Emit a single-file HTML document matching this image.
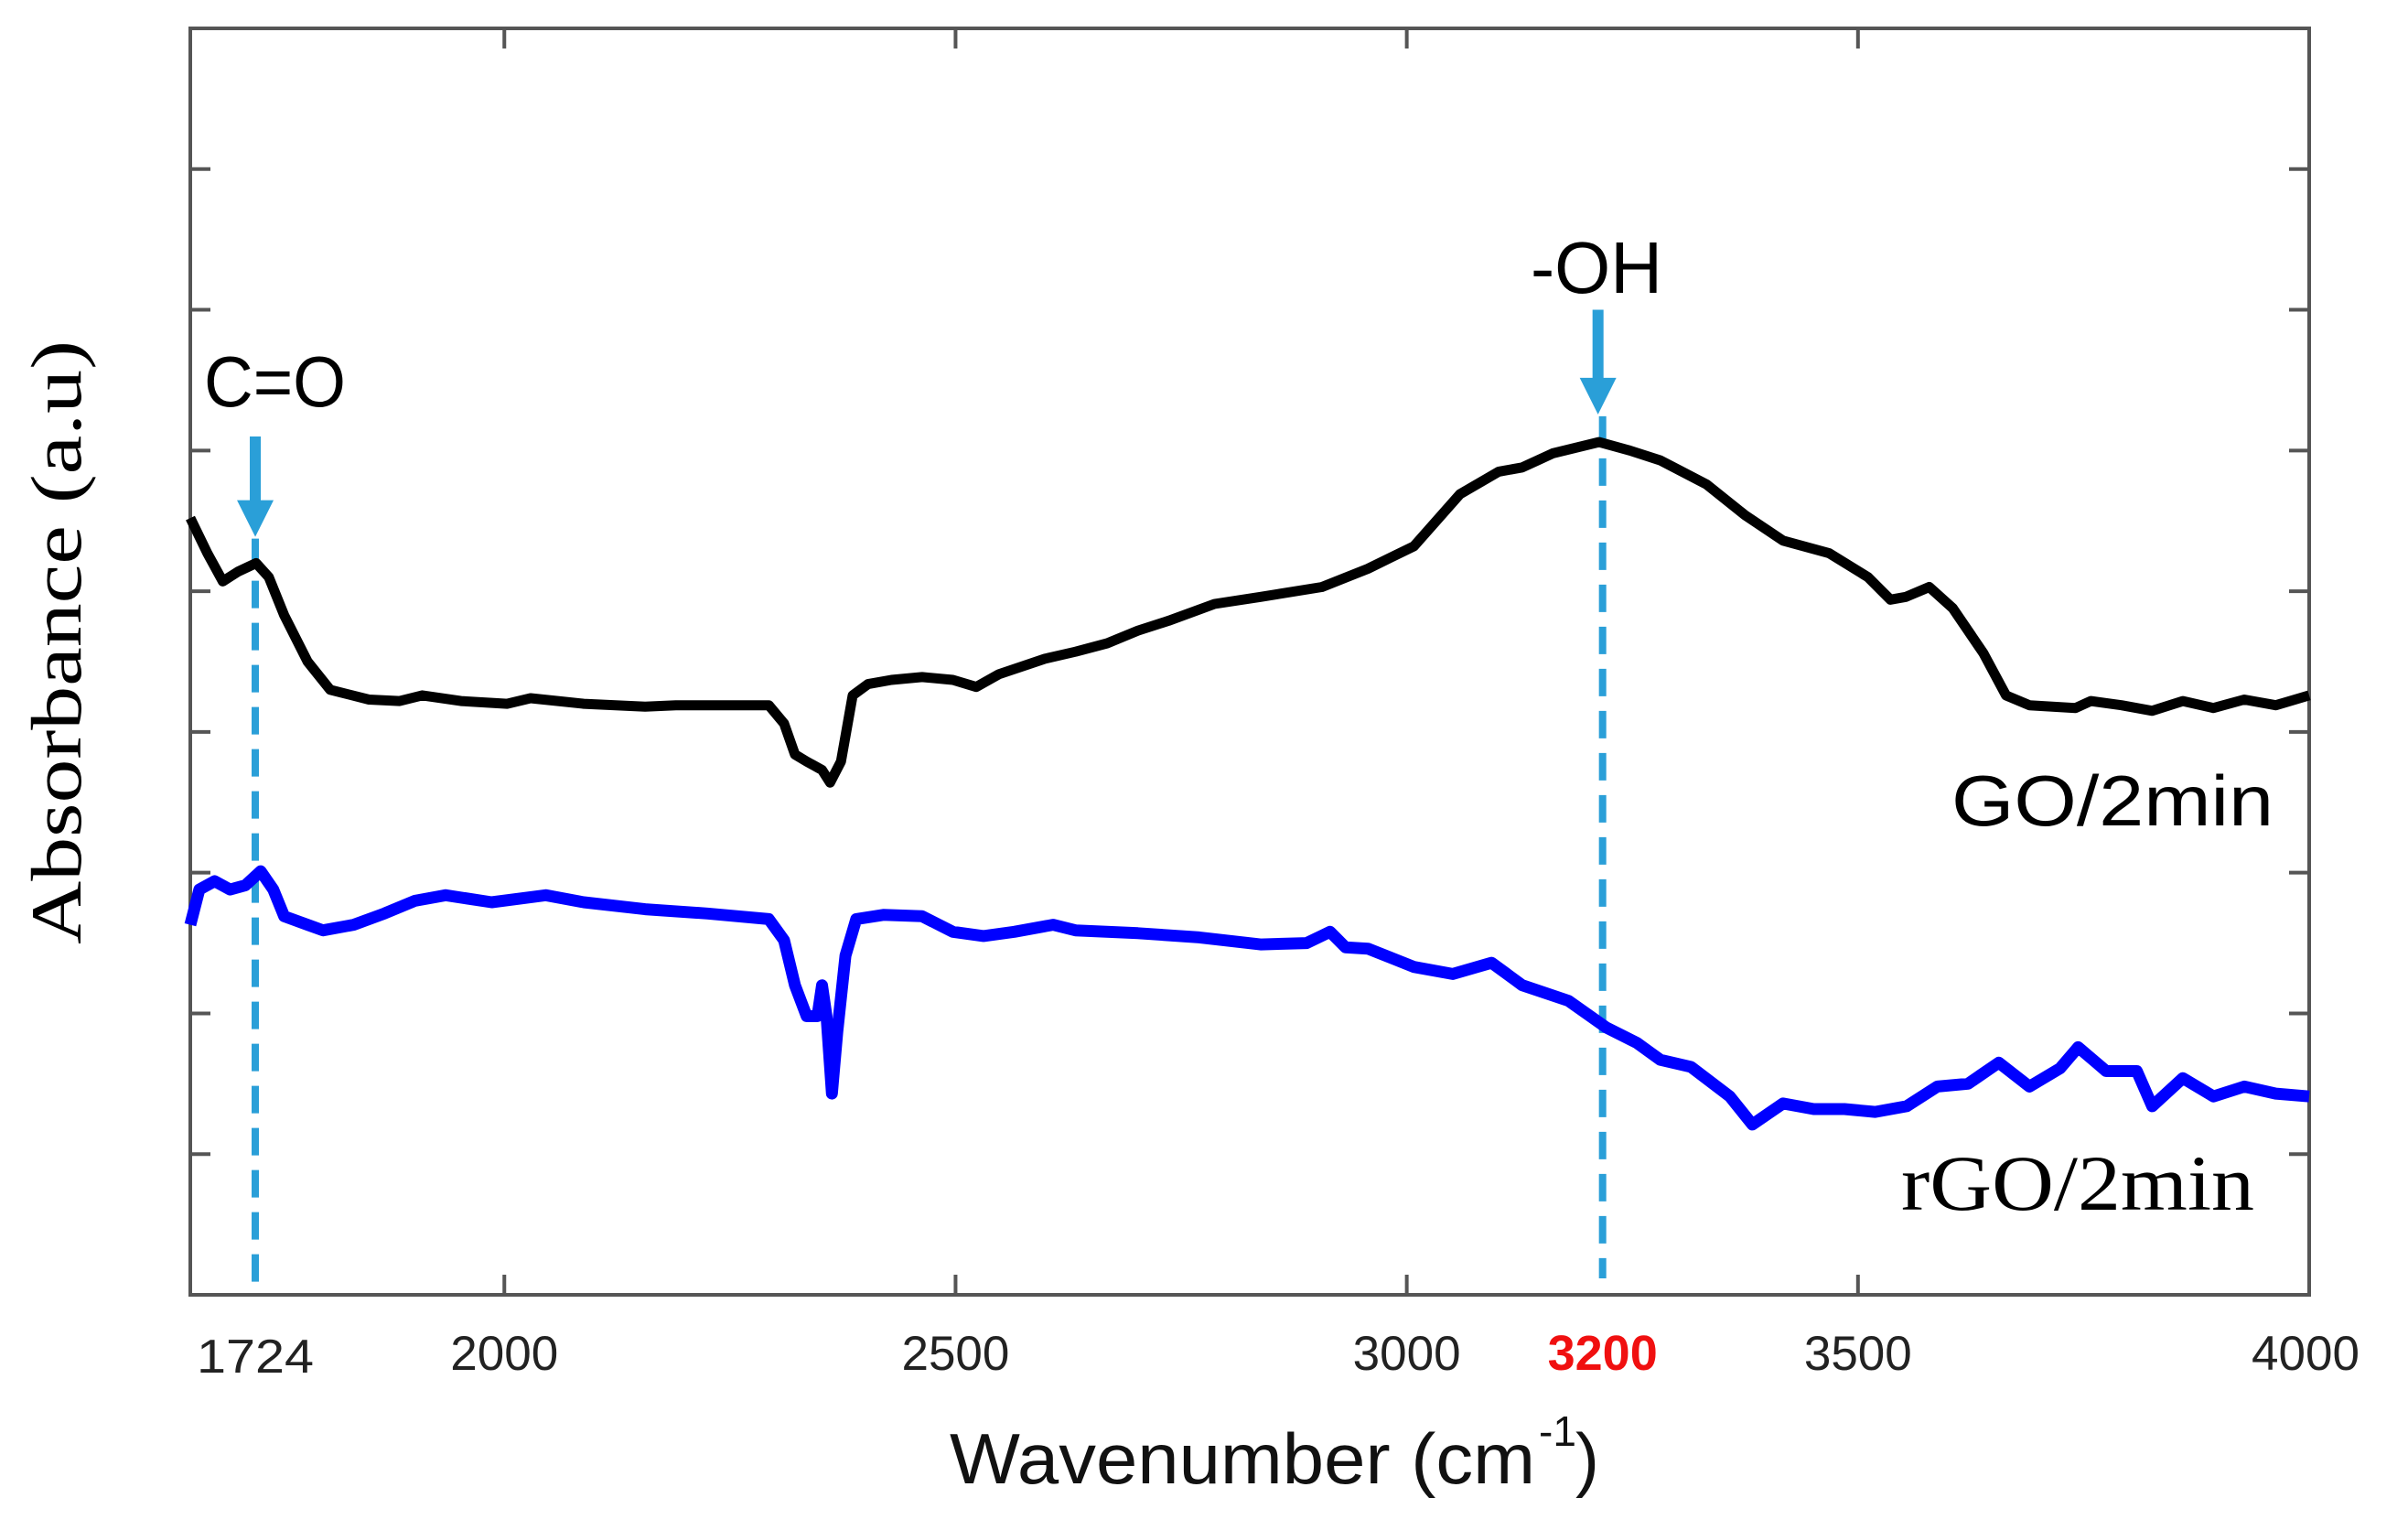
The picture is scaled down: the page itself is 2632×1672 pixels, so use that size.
<!DOCTYPE html>
<html><head><meta charset="utf-8"><style>
html,body{margin:0;padding:0;background:#fff;}
svg{display:block;}
</style></head><body>
<svg id="chart" width="2632" height="1672" viewBox="0 0 2632 1672" xmlns="http://www.w3.org/2000/svg">
</svg>
<script>
const goWn = [1652,1671,1688,1705,1725,1739,1756,1782,1807,1850,1884,1909,1952,2003,2029,2088,2156,2190,2293,2310,2322,2335,2352,2361,2373,2386,2403,2429,2463,2497,2523,2548,2599,2633,2668,2702,2736,2787,2838,2906,2957,3008,3059,3102,3128,3162,3213,3247,3281,3332,3375,3417,3468,3511,3536,3553,3579,3605,3639,3664,3690,3741,3758,3792,3826,3860,3894,3928,3963,4000];
const goAbs = [5.52,5.27,5.07,5.14,5.20,5.10,4.83,4.50,4.30,4.23,4.22,4.26,4.22,4.20,4.24,4.20,4.18,4.19,4.19,4.06,3.84,3.79,3.73,3.64,3.79,4.26,4.34,4.37,4.39,4.37,4.32,4.41,4.52,4.57,4.63,4.72,4.79,4.91,4.96,5.03,5.16,5.32,5.69,5.85,5.88,5.98,6.06,6.00,5.93,5.76,5.54,5.36,5.27,5.10,4.94,4.96,5.03,4.88,4.56,4.26,4.19,4.17,4.22,4.19,4.15,4.22,4.17,4.23,4.19,4.26];
const rgoWn = [1652,1662,1679,1696,1713,1730,1744,1756,1782,1799,1833,1867,1901,1935,1986,2046,2088,2156,2225,2293,2310,2322,2335,2347,2352,2357,2363,2369,2378,2390,2420,2463,2497,2531,2565,2608,2633,2702,2770,2838,2889,2915,2932,2957,3008,3051,3094,3128,3179,3221,3255,3281,3315,3358,3383,3417,3451,3485,3519,3554,3588,3622,3656,3690,3724,3744,3775,3809,3826,3860,3894,3928,3963,4000];
const rgoAbs = [2.63,2.88,2.94,2.88,2.91,3.01,2.88,2.69,2.63,2.59,2.63,2.71,2.80,2.84,2.79,2.84,2.79,2.74,2.71,2.67,2.52,2.20,1.98,1.98,2.20,1.98,1.43,1.87,2.41,2.67,2.70,2.69,2.58,2.55,2.58,2.63,2.59,2.57,2.54,2.49,2.50,2.58,2.47,2.46,2.33,2.28,2.36,2.20,2.09,1.90,1.79,1.67,1.62,1.41,1.21,1.36,1.32,1.32,1.30,1.34,1.48,1.50,1.65,1.48,1.61,1.76,1.59,1.59,1.34,1.54,1.41,1.48,1.43,1.41];
const xTicks = [2000,2500,3000,3500,4000];
const yTicks = [1,2,3,4,5,6,7,8];
const markerWn = [1724,3217];

const L=208,R=2524,T=31,B=1415;
const xMin=1652,xMax=4000,yMin=0,yMax=9;
const xs=v=>L+(v-xMin)/(xMax-xMin)*(R-L);
const ys=v=>B-(v-yMin)/(yMax-yMin)*(B-T);
const svg=document.getElementById('chart');
const NS='http://www.w3.org/2000/svg';
function mk(tag,attrs){const e=document.createElementNS(NS,tag);for(const k in attrs)e.setAttribute(k,attrs[k]);svg.appendChild(e);return e;}

let frame=mk('rect',{x:L,y:T,width:R-L,height:B-T,fill:'none',stroke:'#555',"stroke-width":4});



yTicks.forEach(t=>{
  let a=mk('line',{x1:L,x2:L+22,y1:ys(t),y2:ys(t),stroke:'#555',"stroke-width":4});
  
  
  let b=mk('line',{x1:R-22,x2:R,y1:ys(t),y2:ys(t),stroke:'#555',"stroke-width":4});
  
  
});
xTicks.forEach(t=>{
  let a=mk('line',{x1:xs(t),x2:xs(t),y1:B,y2:B-22,stroke:'#555',"stroke-width":4});
  
  
  let b=mk('line',{x1:xs(t),x2:xs(t),y1:T,y2:T+22,stroke:'#555',"stroke-width":4});
  
  
  let tx=mk('text',{x:xs(t)-(t===4000?4:0),y:1497,"text-anchor":"middle","font-family":"Liberation Sans, sans-serif","font-size":53,fill:'#222'});
  tx.textContent=t;
  
  
});
let l1=mk('text',{x:xs(1724),y:1500,"text-anchor":"middle","font-family":"Liberation Sans, sans-serif","font-size":52,textLength:128,lengthAdjust:"spacingAndGlyphs",fill:'#222'});
l1.textContent='1724';


let l2=mk('text',{x:xs(3217),y:1497,"text-anchor":"middle","font-family":"Liberation Sans, sans-serif","font-size":54,"font-weight":"bold",fill:'#f01010'});
l2.textContent='3200';



// markers
const markerTop=[ys(5.4),ys(6.27)];
const arrowTop=[ys(6.1),ys(7.0)];
markerWn.forEach((w,i)=>{
  let d=mk('line',{x1:xs(w),x2:xs(w),y1:markerTop[i]+4,y2:(i===0?B:B-18),stroke:'#2a9fd8',"stroke-width":8,"stroke-dasharray":"30,16"});
  
  
  const ax=xs(w)-(i===1?5:0);
  let s=mk('line',{x1:ax,x2:ax,y1:arrowTop[i],y2:markerTop[i]-30,stroke:'#2a9fd8',"stroke-width":12});
  
  
  let h=mk('polygon',{points:`${ax-20},${markerTop[i]-38} ${ax+20},${markerTop[i]-38} ${ax},${markerTop[i]+2}`,fill:'#2a9fd8'});
  
  
});

function path(wn,ab){return wn.map((w,i)=>(i?'L':'M')+xs(w).toFixed(1)+','+ys(ab[i]).toFixed(1)).join(' ');}
let g=mk('path',{d:path(goWn,goAbs),fill:'none',stroke:'#000',"stroke-width":11,"stroke-linejoin":"round"});


let r=mk('path',{d:path(rgoWn,rgoAbs),fill:'none',stroke:'#0000ff',"stroke-width":13,"stroke-linejoin":"round"});



function txt(s,attrs,name){let e=mk('text',attrs);e.textContent=s;return e;}
txt('C=O',{x:223,y:444,"font-family":"Liberation Sans, sans-serif","font-size":78,textLength:155,lengthAdjust:"spacingAndGlyphs",fill:'#000'},'co-annotation');
txt('-OH',{x:1673,y:320,"font-family":"Liberation Sans, sans-serif","font-size":80,textLength:144,lengthAdjust:"spacingAndGlyphs",fill:'#000'},'oh-annotation');
txt('GO/2min',{x:2133,y:902,"font-family":"Liberation Sans, sans-serif","font-size":78,textLength:352,lengthAdjust:"spacingAndGlyphs",fill:'#000'},'go-series-label');
txt('rGO/2min',{x:2078,y:1322,"font-family":"Liberation Serif, serif","font-size":86,textLength:386,lengthAdjust:"spacingAndGlyphs",fill:'#000'},'rgo-series-label');
txt('Wavenumber (cm',{x:1038,y:1621,"font-family":"Liberation Sans, sans-serif","font-size":78,textLength:640,lengthAdjust:"spacingAndGlyphs",fill:'#111'},'x-axis-title');
txt('-1',{x:1682,y:1580,"font-family":"Liberation Sans, sans-serif","font-size":46,fill:'#111'},'x-axis-title-superscript');
txt(')',{x:1722,y:1621,"font-family":"Liberation Sans, sans-serif","font-size":78,fill:'#111'},'x-axis-title-paren');
txt('Absorbance  (a.u)',{x:0,y:0,"text-anchor":"middle","font-family":"Liberation Serif, serif","font-size":78,transform:"translate(88,702) rotate(-90)",textLength:660,lengthAdjust:"spacingAndGlyphs",fill:'#000'},'y-axis-title');
</script>
</body></html>
